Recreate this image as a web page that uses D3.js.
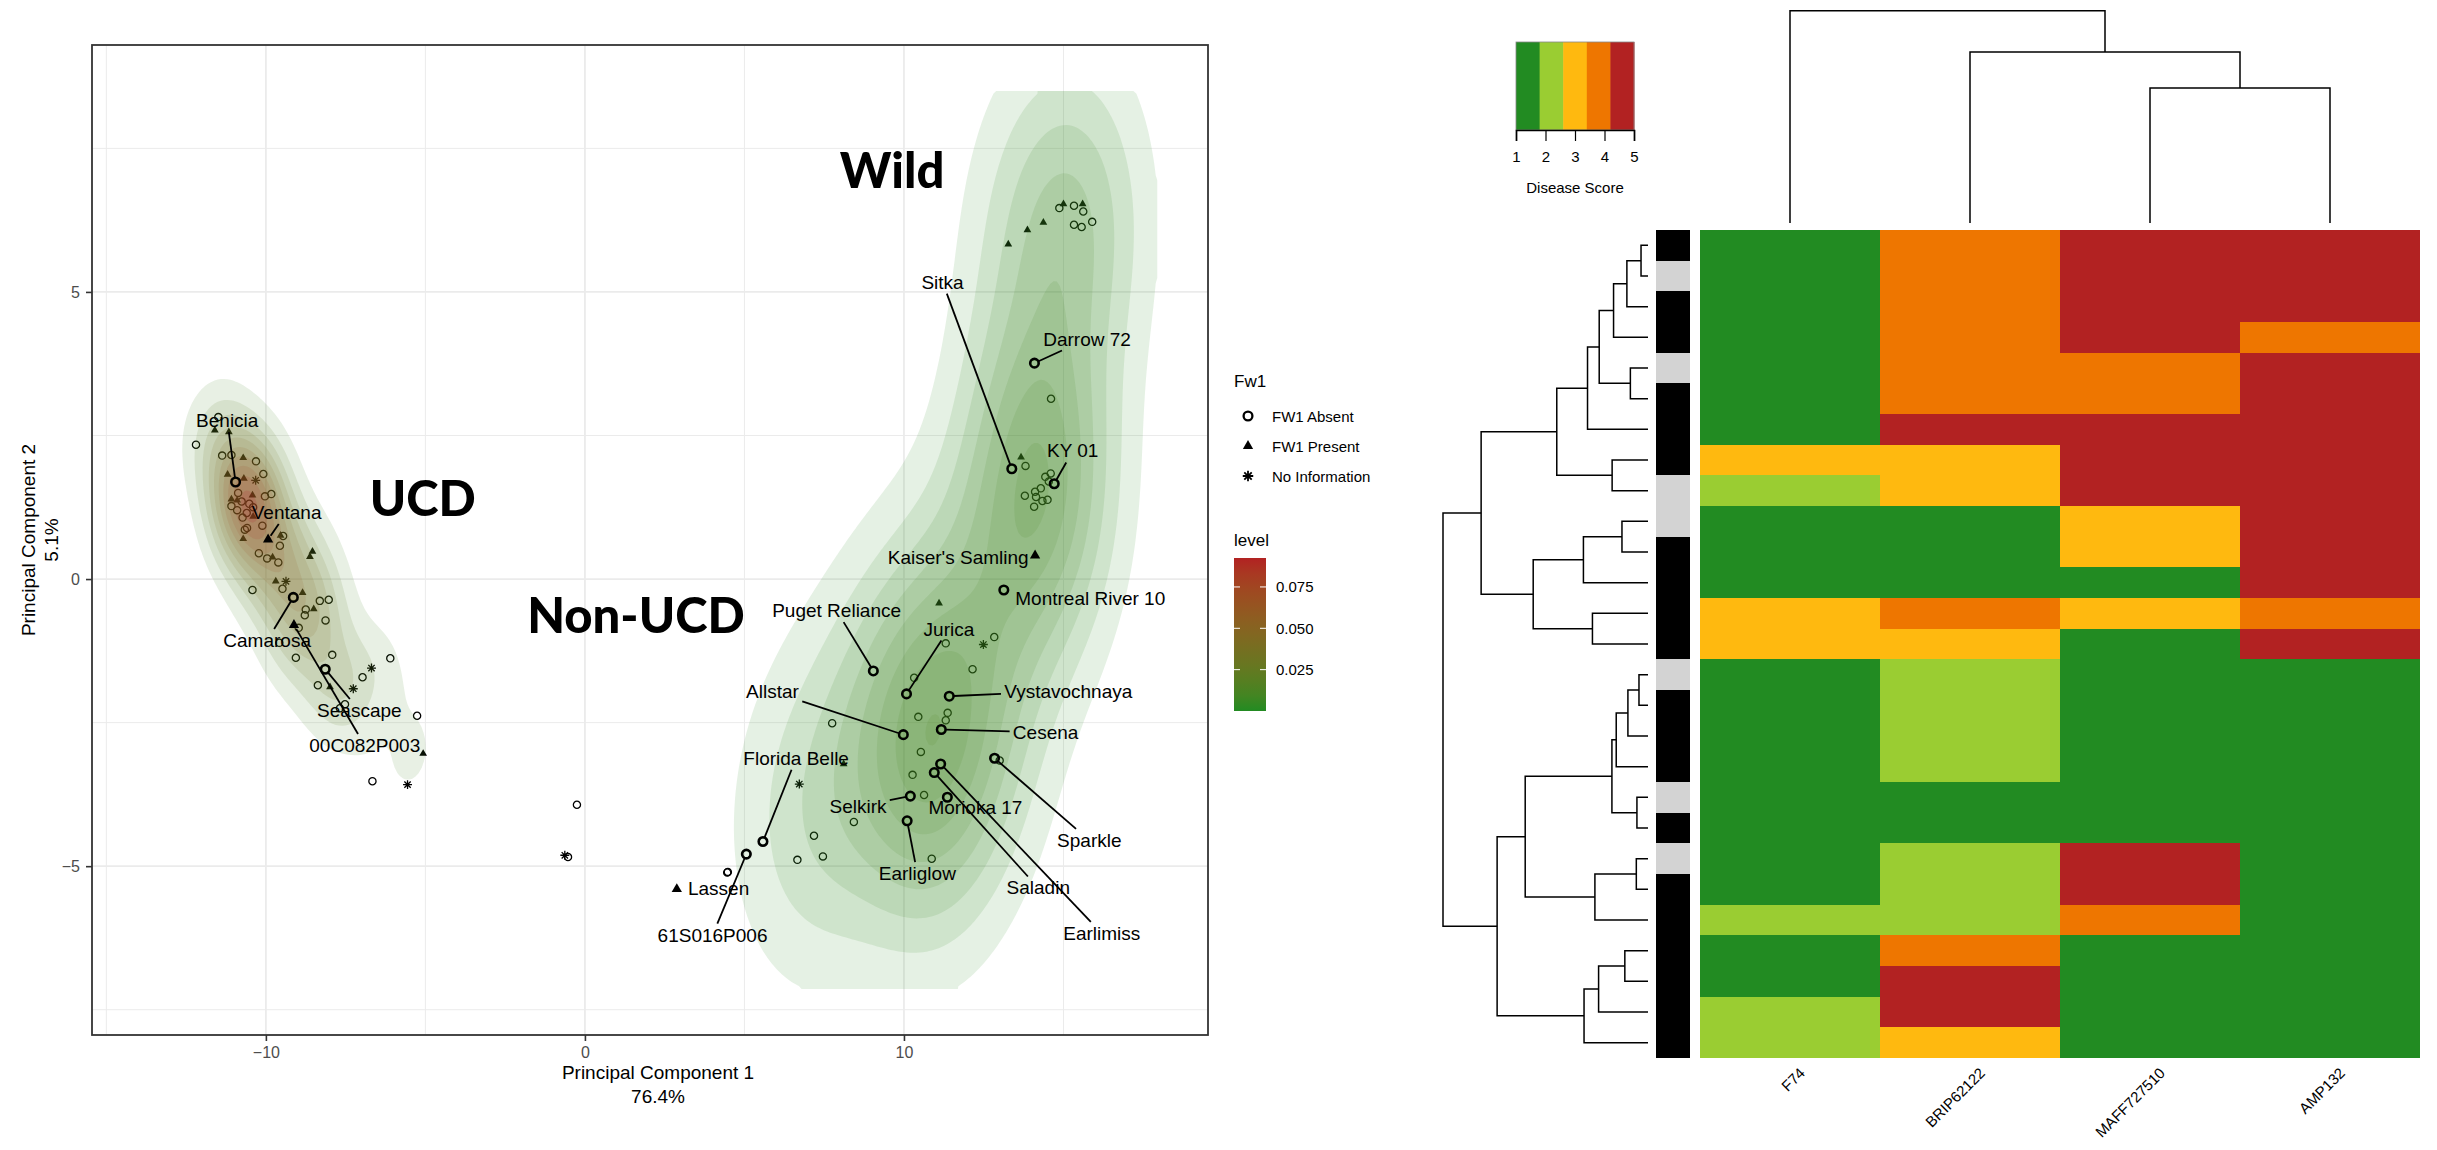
<!DOCTYPE html>
<html>
<head>
<meta charset="utf-8">
<script src="https://cdn.jsdelivr.net/npm/d3@7"></script>
<style>
  body { margin: 0; background: #fff; }
  svg { display: block; font-family: "Liberation Sans", Arial, Helvetica, sans-serif; }
</style>
</head>
<body>
<svg id="fig" width="2437" height="1150"></svg>
<script>
// PCA scores [PC1, PC2, Fw1]  a = FW1 absent, p = FW1 present, n = no information
const ucdPoints = [
  [-12.19, 2.34, 'a'], [-11.49, 2.82, 'a'], [-11.37, 2.15, 'a'], [-11.08, 2.16, 'a'], [-10.31, 2.05, 'a'],
  [-10.08, 1.83, 'a'], [-10.03, 1.44, 'a'], [-9.83, 1.48, 'a'], [-11.08, 1.27, 'a'], [-10.76, 1.35, 'a'],
  [-10.52, 1.31, 'a'], [-10.87, 1.50, 'a'], [-10.73, 1.07, 'a'], [-10.11, 0.93, 'a'], [-10.66, 0.86, 'a'],
  [-10.59, 0.89, 'a'], [-9.56, 0.58, 'a'], [-10.22, 0.45, 'a'], [-9.96, 0.36, 'a'], [-9.61, 0.29, 'a'],
  [-9.46, 0.75, 'a'], [-10.42, -0.19, 'a'], [-9.48, -0.17, 'a'], [-8.31, -0.38, 'a'], [-8.03, -0.36, 'a'],
  [-8.75, -0.53, 'a'], [-8.78, -0.63, 'a'], [-8.13, -0.72, 'a'], [-8.97, -0.85, 'a'], [-9.58, -1.11, 'a'],
  [-7.92, -1.32, 'a'], [-9.06, -1.37, 'a'], [-6.97, -1.71, 'a'], [-6.10, -1.38, 'a'], [-8.37, -1.85, 'a'],
  [-7.68, -2.25, 'a'], [-7.52, -2.18, 'a'], [-5.26, -2.38, 'a'], [-6.66, -3.52, 'a'], [-10.90, 1.20, 'a'],
  [-10.60, 1.15, 'a'], [-10.40, 1.25, 'a'],
  [-11.60, 2.59, 'p'], [-11.16, 2.56, 'p'], [-10.71, 2.11, 'p'], [-11.20, 1.82, 'p'], [-10.69, 1.75, 'p'],
  [-10.42, 1.46, 'p'], [-11.08, 1.39, 'p'], [-10.90, 1.37, 'p'], [-10.40, 1.09, 'p'], [-10.71, 0.70, 'p'],
  [-9.54, 0.76, 'p'], [-8.54, 0.48, 'p'], [-8.62, 0.39, 'p'], [-9.79, 0.38, 'p'], [-9.69, -0.04, 'p'],
  [-8.85, -0.24, 'p'], [-8.50, -0.52, 'p'], [-7.99, -1.88, 'p'], [-5.07, -3.04, 'p'],
  [-10.32, 1.72, 'n'], [-9.37, -0.04, 'n'], [-6.69, -1.55, 'n'], [-7.26, -1.91, 'n'], [-5.56, -3.58, 'n']
];

const nonUcdPoints = [
  [14.87, 6.46, 'a'], [15.00, 6.53, 'p'], [15.33, 6.50, 'a'], [15.60, 6.53, 'p'], [15.62, 6.40, 'a'],
  [15.33, 6.17, 'a'], [15.57, 6.13, 'a'], [15.90, 6.22, 'a'], [14.37, 6.21, 'p'], [13.87, 6.08, 'p'],
  [13.27, 5.83, 'p'], [14.61, 3.14, 'a'], [13.67, 2.12, 'p'], [13.81, 1.97, 'a'], [14.43, 1.78, 'a'],
  [14.60, 1.84, 'a'], [14.54, 1.70, 'a'], [14.29, 1.58, 'a'], [14.11, 1.52, 'a'], [13.79, 1.45, 'a'],
  [14.14, 1.43, 'a'], [14.34, 1.36, 'a'], [14.50, 1.38, 'a'], [14.08, 1.26, 'a'], [11.10, -0.42, 'p'],
  [11.31, -1.12, 'a'], [12.49, -1.14, 'n'], [12.83, -1.01, 'a'], [12.15, -1.57, 'a'], [10.32, -1.72, 'a'],
  [11.37, -2.33, 'a'], [11.31, -2.46, 'a'], [10.45, -2.40, 'a'], [7.75, -2.51, 'a'], [10.53, -3.01, 'a'],
  [13.00, -3.16, 'a'], [10.27, -3.41, 'a'], [10.63, -3.76, 'a'], [8.43, -4.23, 'a'], [7.18, -4.47, 'a'],
  [6.66, -4.89, 'a'], [7.46, -4.83, 'a'], [10.87, -4.87, 'a'], [8.11, -3.22, 'p'], [6.72, -3.57, 'n']
];

// lines lying between the two clusters (no density drawn for them)
const otherPoints = [
  [4.46, -5.11, 'a'], [4.48, -5.10, 'a'], [-0.25, -3.93, 'a'], [-0.63, -4.81, 'n'], [-0.53, -4.84, 'a']
];

// named cultivars: [name, group, PC1, PC2, Fw1, label PC1, label PC2]
const cultivars = [
  ['Benicia', 'UCD', -10.95, 1.69, 'a', -11.21, 2.76],
  ['Ventana', 'UCD', -9.93, 0.69, 'p', -9.35, 1.16],
  ['Camarosa', 'UCD', -9.14, -0.32, 'a', -9.96, -1.07],
  ['Seascape', 'UCD', -8.14, -1.57, 'a', -7.07, -2.29],
  ['00C082P003', 'UCD', -9.12, -0.80, 'p', -6.90, -2.90],
  ['Sitka', 'Non-UCD', 13.38, 1.92, 'a', 11.21, 5.17],
  ['Darrow 72', 'Non-UCD', 14.09, 3.76, 'a', 15.74, 4.18],
  ['KY 01', 'Non-UCD', 14.71, 1.66, 'a', 15.29, 2.23],
  ["Kaiser's Samling", 'Non-UCD', 14.11, 0.41, 'p', 11.70, 0.38],
  ['Montreal River 10', 'Non-UCD', 13.13, -0.19, 'a', 15.84, -0.34],
  ['Puget Reliance', 'Non-UCD', 9.04, -1.60, 'a', 7.89, -0.55],
  ['Jurica', 'Non-UCD', 10.08, -2.00, 'a', 11.41, -0.87],
  ['Vystavochnaya', 'Non-UCD', 11.42, -2.04, 'a', 15.15, -1.95],
  ['Allstar', 'Non-UCD', 9.98, -2.71, 'a', 5.88, -1.96],
  ['Cesena', 'Non-UCD', 11.17, -2.62, 'a', 14.44, -2.67],
  ['Florida Belle', 'Non-UCD', 5.58, -4.57, 'a', 6.62, -3.12],
  ['Selkirk', 'Non-UCD', 10.20, -3.78, 'a', 8.56, -3.96],
  ['Morioka 17', 'Non-UCD', 11.36, -3.80, 'a', 12.24, -3.98],
  ['Sparkle', 'Non-UCD', 12.84, -3.12, 'a', 15.81, -4.55],
  ['Earliglow', 'Non-UCD', 10.10, -4.21, 'a', 10.42, -5.13],
  ['Saladin', 'Non-UCD', 10.95, -3.37, 'a', 14.21, -5.38],
  ['Earlimiss', 'Non-UCD', 11.15, -3.22, 'a', 16.20, -6.17],
  ['Lassen', 'Other', 2.88, -5.40, 'p', 4.19, -5.39],
  ['61S016P006', 'Other', 5.06, -4.79, 'a', 4.00, -6.20]
];

const groupNotes = [['Wild', 9.63, 7.14], ['UCD', -5.08, 1.43], ['Non-UCD', 1.6, -0.61]];
const fw1Levels = ['FW1 Absent', 'FW1 Present', 'No Information'];
const levelTicks = [0.025, 0.050, 0.075];

// heatmap: disease score per isolate, rows in dendrogram order
const isolates = ['F74', 'BRIP62122', 'MAFF727510', 'AMP132'];
const scoreF74 = [1, 1, 1, 1, 1, 1, 1, 3, 2, 1, 1, 1, 3, 3, 1, 1, 1, 1, 1, 1, 1, 1, 2, 1, 1, 2, 2];
const scoreBRIP62122 = [4, 4, 4, 4, 4, 4, 5, 3, 3, 1, 1, 1, 4, 3, 2, 2, 2, 2, 1, 1, 2, 2, 2, 4, 5, 5, 3];
const scoreMAFF727510 = [5, 5, 5, 5, 4, 4, 5, 5, 5, 3, 3, 1, 3, 1, 1, 1, 1, 1, 1, 1, 5, 5, 4, 1, 1, 1, 1];
const scoreAMP132 = [5, 5, 5, 4, 5, 5, 5, 5, 5, 5, 5, 5, 4, 5, 1, 1, 1, 1, 1, 1, 1, 1, 1, 1, 1, 1, 1];
const fw1Track = [1, 0, 1, 1, 0, 1, 1, 1, 0, 0, 1, 1, 1, 1, 0, 1, 1, 1, 0, 1, 0, 1, 1, 1, 1, 1, 1];
const scoreLevels = [1, 2, 3, 4, 5];

// dendrograms: [height, left, right], leaves are row / column indices
const rowTree = [10.0,
  [8.14,
    [4.45, [2.95, [2.38, [1.68, [1.03, [0.34, 0, 1], 2], 3], [0.86, 4, 5]], 6], [1.75, 7, 8]],
    [5.60, [3.15, [1.27, 9, 10], 11], [2.71, 12, 13]]],
  [7.36,
    [5.99, [1.76, [1.55, [0.98, [0.44, 14, 15], 16], 17], [0.54, 18, 19]], [2.59, [0.57, 20, 21], 22]],
    [3.12, [2.41, [1.13, 23, 24], 25], 26]]];
const colTree = [10.0, 0, [8.05, 1, [6.36, 2, 3]]];

const svg = d3.select('#fig');

// ---------------- PCA panel ----------------
const panel = { left: 92, right: 1208, top: 45, bottom: 1035 };
const x = d3.scaleLinear().domain([-15.45, 19.53]).range([panel.left, panel.right]);
const y = d3.scaleLinear().domain([-7.94, 9.30]).range([panel.bottom, panel.top]);

const asterisk = {
  draw(ctx, size) {
    const r = Math.sqrt(size) / 2, s = r * Math.SQRT1_2;
    ctx.moveTo(-r, 0); ctx.lineTo(r, 0);
    ctx.moveTo(0, -r); ctx.lineTo(0, r);
    ctx.moveTo(-s, -s); ctx.lineTo(s, s);
    ctx.moveTo(-s, s); ctx.lineTo(s, -s);
  }
};

function drawSymbol(sel, shape, big) {
  if (shape === 'a') {
    sel.append('circle').attr('r', big ? 4.4 : 3.6)
      .attr('fill', 'none').attr('stroke', '#000').attr('stroke-width', big ? 2.3 : 1.3);
  } else if (shape === 'p') {
    sel.append('path').attr('d', d3.symbol(d3.symbolTriangle, big ? 46 : 26)())
      .attr('fill', '#000');
  } else {
    sel.append('path').attr('d', d3.symbol(asterisk, big ? 110 : 80)())
      .attr('fill', 'none').attr('stroke', '#000').attr('stroke-width', big ? 1.8 : 1.3);
  }
}

// grid
const grid = svg.append('g');
[-15, -5, 5, 15].forEach(v => grid.append('line').attr('x1', x(v)).attr('x2', x(v))
  .attr('y1', panel.top).attr('y2', panel.bottom).attr('stroke', '#ebebeb').attr('stroke-width', 1));
[-7.5, -2.5, 2.5, 7.5].forEach(v => grid.append('line').attr('y1', y(v)).attr('y2', y(v))
  .attr('x1', panel.left).attr('x2', panel.right).attr('stroke', '#ebebeb').attr('stroke-width', 1));
[-10, 0, 10].forEach(v => grid.append('line').attr('x1', x(v)).attr('x2', x(v))
  .attr('y1', panel.top).attr('y2', panel.bottom).attr('stroke', '#ebebeb').attr('stroke-width', 1.8));
[-5, 0, 5].forEach(v => grid.append('line').attr('y1', y(v)).attr('y2', y(v))
  .attr('x1', panel.left).attr('x2', panel.right).attr('stroke', '#ebebeb').attr('stroke-width', 1.8));

const allPoints = ucdPoints.map(p => ['UCD', ...p])
  .concat(nonUcdPoints.map(p => ['Non-UCD', ...p]))
  .concat(otherPoints.map(p => ['Other', ...p]))
  .concat(cultivars.map(c => [c[1], c[2], c[3], c[4]]));

// plain points sit under the density fill
const plotArea = svg.append('g');
allPoints.forEach(p => {
  const g = plotArea.append('g').attr('transform', `translate(${x(p[1])},${y(p[2])})`);
  drawSymbol(g, p[3], false);
});

// 2d kernel density per group (normal reference bandwidth, as MASS::kde2d), on the scale limits
const gx0 = -13.86, gx1 = 17.94, gy0 = -7.14, gy1 = 8.5;
const nx = 318, ny = 156;
const dx = (gx1 - gx0) / nx, dy = (gy1 - gy0) / ny;

function bandwidth(v) {
  const s = v.slice().sort(d3.ascending);
  const iqr = d3.quantile(s, 0.75) - d3.quantile(s, 0.25);
  return 1.06 * Math.min(d3.deviation(v), iqr / 1.34) * Math.pow(v.length, -0.2);
}
const gauss = t => Math.exp(-0.5 * t * t) / Math.sqrt(2 * Math.PI);

function kde2d(pts, adjust) {
  const xs = pts.map(p => p[1]), ys = pts.map(p => p[2]);
  const hx = bandwidth(xs) * adjust[0], hy = bandwidth(ys) * adjust[1], n = pts.length;
  const kx = d3.range(nx).map(i => xs.map(v => gauss((gx0 + (i + 0.5) * dx - v) / hx) / hx));
  const ky = d3.range(ny).map(j => ys.map(v => gauss((gy0 + (j + 0.5) * dy - v) / hy) / hy));
  const values = new Float64Array(nx * ny);
  for (let j = 0; j < ny; j++) {
    for (let i = 0; i < nx; i++) {
      let s = 0;
      for (let k = 0; k < n; k++) s += kx[i][k] * ky[j][k];
      values[j * nx + i] = s / n;
    }
  }
  return values;
}

const densityGroups = [['UCD', [1, 1]], ['Non-UCD', [1.3, 1.15]]];
const groups = densityGroups.map(([name, adjust]) => {
  const values = kde2d(allPoints.filter(p => p[0] === name), adjust);
  const levels = d3.ticks(0, d3.max(values), 10).filter(v => v > 0);
  return { name, values, levels };
});

const levelRange = [0, 0.0925];
const levelColor = d3.scaleLinear().domain(levelRange)
  .range(['forestgreen', 'firebrick']).interpolate(d3.interpolateLab);

const gridPath = d3.geoPath(d3.geoTransform({
  point(px, py) { this.stream.point(x(gx0 + px * dx), y(gy0 + py * dy)); }
}));

const densityLayer = svg.append('g');
groups.forEach(g => {
  const contours = d3.contours().size([nx, ny]).thresholds(g.levels)(g.values);
  densityLayer.selectAll(null)
    .data(contours)
    .enter()
    .append('path')
    .attr('d', gridPath)
    .attr('fill', d => levelColor(d.value))
    .attr('fill-opacity', 0.12)
    .attr('stroke', 'none');
});

// labelled cultivars on top
const labelLayer = svg.append('g');
cultivars.forEach(c => {
  const g = labelLayer.append('g').attr('transform', `translate(${x(c[2])},${y(c[3])})`);
  drawSymbol(g, c[4], true);
});

cultivars.forEach(c => {
  const px = x(c[2]), py = y(c[3]);
  const cx = x(c[5]), cy = y(c[6]);
  const t = labelLayer.append('text')
    .attr('x', cx).attr('y', cy)
    .attr('text-anchor', 'middle').attr('dominant-baseline', 'central')
    .attr('font-size', 19).attr('fill', '#000')
    .text(c[0]);
  const bb = t.node().getBBox();
  const hw = bb.width / 2 + 3, hh = bb.height / 2 + 1;
  const ddx = cx - px, ddy = cy - py;
  const tHit = 1 - Math.min(hw / Math.abs(ddx || 1e-9), hh / Math.abs(ddy || 1e-9));
  const len = Math.hypot(ddx, ddy);
  const t0 = 4.5 / len;
  if (tHit > t0 && (tHit - t0) * len > 6) {
    labelLayer.insert('line', 'text')
      .attr('x1', px + ddx * t0).attr('y1', py + ddy * t0)
      .attr('x2', px + ddx * tHit).attr('y2', py + ddy * tHit)
      .attr('stroke', '#000').attr('stroke-width', 1.8);
  }
});

svg.append('g').selectAll('text')
  .data(groupNotes)
  .enter()
  .append('text')
  .attr('x', d => x(d[1])).attr('y', d => y(d[2]))
  .attr('text-anchor', 'middle').attr('dominant-baseline', 'central')
  .style('font-family', 'Lato, "Open Sans", sans-serif')
  .attr('font-weight', 900).attr('font-size', 49).attr('fill', '#000')
  .text(d => d[0]);

// border and axes
svg.append('rect')
  .attr('x', panel.left).attr('y', panel.top)
  .attr('width', panel.right - panel.left).attr('height', panel.bottom - panel.top)
  .attr('fill', 'none').attr('stroke', '#333').attr('stroke-width', 1.8);

const xAxis = svg.append('g')
  .attr('transform', `translate(0,${panel.bottom})`)
  .call(d3.axisBottom(x).tickValues([-10, 0, 10]).tickSize(6).tickPadding(6));
const yAxis = svg.append('g')
  .attr('transform', `translate(${panel.left},0)`)
  .call(d3.axisLeft(y).tickValues([-5, 0, 5]).tickSize(6).tickPadding(6));
[xAxis, yAxis].forEach(a => {
  a.select('.domain').remove();
  a.selectAll('.tick line').attr('stroke', '#333').attr('stroke-width', 1.6);
  a.selectAll('.tick text').attr('fill', '#4d4d4d').attr('font-size', 16)
    .attr('font-family', '"Liberation Sans", Arial, sans-serif');
});

const midX = (panel.left + panel.right) / 2 + 8, midY = (panel.top + panel.bottom) / 2;
svg.append('text').attr('x', midX).attr('y', 1072).attr('text-anchor', 'middle')
  .attr('dominant-baseline', 'central').attr('font-size', 19).text('Principal Component 1');
svg.append('text').attr('x', midX).attr('y', 1096).attr('text-anchor', 'middle')
  .attr('dominant-baseline', 'central').attr('font-size', 19).text('76.4%');
svg.append('text').attr('transform', `translate(28,${midY}) rotate(-90)`).attr('text-anchor', 'middle')
  .attr('dominant-baseline', 'central').attr('font-size', 19).text('Principal Component 2');
svg.append('text').attr('transform', `translate(51,${midY}) rotate(-90)`).attr('text-anchor', 'middle')
  .attr('dominant-baseline', 'central').attr('font-size', 19).text('5.1%');

// Fw1 legend
const legend = svg.append('g');
legend.append('text').attr('x', 1234).attr('y', 381).attr('dominant-baseline', 'central')
  .attr('font-size', 17).text('Fw1');
fw1Levels.forEach((lab, i) => {
  const cy = 416 + i * 30;
  const g = legend.append('g').attr('transform', `translate(1248,${cy})`);
  drawSymbol(g, ['a', 'p', 'n'][i], true);
  legend.append('text').attr('x', 1272).attr('y', cy).attr('dominant-baseline', 'central')
    .attr('font-size', 15).text(lab);
});

// level colourbar
legend.append('text').attr('x', 1234).attr('y', 540).attr('dominant-baseline', 'central')
  .attr('font-size', 17).text('level');
const bar = { x: 1234, y: 558, w: 32, h: 153 };
const barY = d3.scaleLinear().domain(levelRange).range([bar.y + bar.h, bar.y]);
const grad = svg.append('defs').append('linearGradient')
  .attr('id', 'levelGrad').attr('x1', 0).attr('y1', 1).attr('x2', 0).attr('y2', 0);
d3.range(0, 1.0001, 0.1).forEach(f => grad.append('stop')
  .attr('offset', f).attr('stop-color', levelColor(levelRange[0] + f * (levelRange[1] - levelRange[0]))));
legend.append('rect').attr('x', bar.x).attr('y', bar.y).attr('width', bar.w).attr('height', bar.h)
  .attr('fill', 'url(#levelGrad)');
levelTicks.forEach(v => {
  const ty = barY(v);
  legend.append('line').attr('x1', bar.x).attr('x2', bar.x + 6).attr('y1', ty).attr('y2', ty)
    .attr('stroke', '#fff').attr('stroke-width', 1);
  legend.append('line').attr('x1', bar.x + bar.w - 6).attr('x2', bar.x + bar.w).attr('y1', ty).attr('y2', ty)
    .attr('stroke', '#fff').attr('stroke-width', 1);
  legend.append('text').attr('x', 1276).attr('y', ty).attr('dominant-baseline', 'central')
    .attr('font-size', 15).text(v.toFixed(3));
});

// ---------------- heatmap ----------------
const scores = [scoreF74, scoreBRIP62122, scoreMAFF727510, scoreAMP132];
const nRows = scoreF74.length;
const heat = { left: 1700, right: 2420, top: 230, bottom: 1058 };
const colX = d3.scaleBand().domain(d3.range(isolates.length)).range([heat.left, heat.right]);
const rowY = d3.scaleBand().domain(d3.range(nRows)).range([heat.top, heat.bottom]);
const scoreColor = d3.scaleOrdinal().domain(scoreLevels)
  .range(['#228B22', '#9ACD32', '#FFB90F', '#EE7600', '#B22222']);

const cells = svg.append('g').attr('shape-rendering', 'crispEdges');
scores.forEach((col, j) => {
  cells.selectAll(null)
    .data(col)
    .enter()
    .append('rect')
    .attr('x', colX(j)).attr('y', (d, i) => rowY(i))
    .attr('width', colX.bandwidth()).attr('height', rowY.bandwidth())
    .attr('fill', d => scoreColor(d));
});

// Fw1 side track
cells.selectAll(null)
  .data(fw1Track)
  .enter()
  .append('rect')
  .attr('x', 1656).attr('y', (d, i) => rowY(i))
  .attr('width', 34).attr('height', rowY.bandwidth())
  .attr('fill', d => d ? '#000' : '#d3d3d3');

// column labels
svg.append('g').selectAll('text')
  .data(isolates)
  .enter()
  .append('text')
  .attr('transform', (d, i) => `translate(${colX(i) + colX.bandwidth() / 2 + 16},1074) rotate(-45)`)
  .attr('text-anchor', 'end').attr('font-size', 15).text(d => d);

// dendrograms
function layoutTree(tree, leafPos) {
  const root = d3.hierarchy(tree, d => Array.isArray(d) ? d.slice(1) : null);
  root.eachAfter(n => {
    n.h = n.children ? n.data[0] : 0;
    n.pos = n.children ? d3.mean(n.children, c => c.pos) : leafPos(n.data);
  });
  return root;
}

const rowRoot = layoutTree(rowTree, i => rowY(i) + rowY.bandwidth() / 2);
const rowH = d3.scaleLinear().domain([0, 10]).range([1648, 1443]);
const dendro = svg.append('g').attr('fill', 'none').attr('stroke', '#000').attr('stroke-width', 1.5);
rowRoot.descendants().filter(n => n.children).forEach(n => {
  const [a, b] = n.children;
  dendro.append('path').attr('d',
    `M${rowH(a.h)},${a.pos}H${rowH(n.h)}V${b.pos}H${rowH(b.h)}`);
});

const colRoot = layoutTree(colTree, j => colX(j) + colX.bandwidth() / 2);
const colH = d3.scaleLinear().domain([0, 10]).range([223, 10.7]);
colRoot.descendants().filter(n => n.children).forEach(n => {
  const [a, b] = n.children;
  dendro.append('path').attr('d',
    `M${a.pos},${colH(a.h)}V${colH(n.h)}H${b.pos}V${colH(b.h)}`);
});

// disease score legend
const scoreBox = { x: 1516, y: 42, w: 118, h: 88 };
const scoreX = d3.scaleLinear().domain([1, 5]).range([scoreBox.x, scoreBox.x + scoreBox.w]);
const sLegend = svg.append('g');
sLegend.selectAll('rect')
  .data(scoreLevels)
  .enter()
  .append('rect')
  .attr('x', (d, i) => scoreBox.x + i * scoreBox.w / 5).attr('y', scoreBox.y)
  .attr('width', scoreBox.w / 5 + 0.5).attr('height', scoreBox.h)
  .attr('fill', d => scoreColor(d));
sLegend.append('rect').attr('x', scoreBox.x).attr('y', scoreBox.y)
  .attr('width', scoreBox.w).attr('height', scoreBox.h)
  .attr('fill', 'none').attr('stroke', '#888').attr('stroke-width', 0.8);
const sAxis = sLegend.append('g')
  .attr('transform', `translate(0,${scoreBox.y + scoreBox.h})`)
  .call(d3.axisBottom(scoreX).tickValues(scoreLevels).tickSize(11).tickPadding(10).tickFormat(d3.format('d')));
sAxis.select('.domain').attr('stroke', '#000').attr('stroke-width', 1.6);
sAxis.selectAll('.tick line').attr('stroke', '#000').attr('stroke-width', 1.2);
sAxis.selectAll('.tick text').attr('font-size', 15).attr('fill', '#000')
  .attr('font-family', '"Liberation Sans", Arial, sans-serif');
sLegend.append('text').attr('x', scoreBox.x + scoreBox.w / 2).attr('y', 187)
  .attr('text-anchor', 'middle').attr('dominant-baseline', 'central')
  .attr('font-size', 15).text('Disease Score');
</script>
</body>
</html>
